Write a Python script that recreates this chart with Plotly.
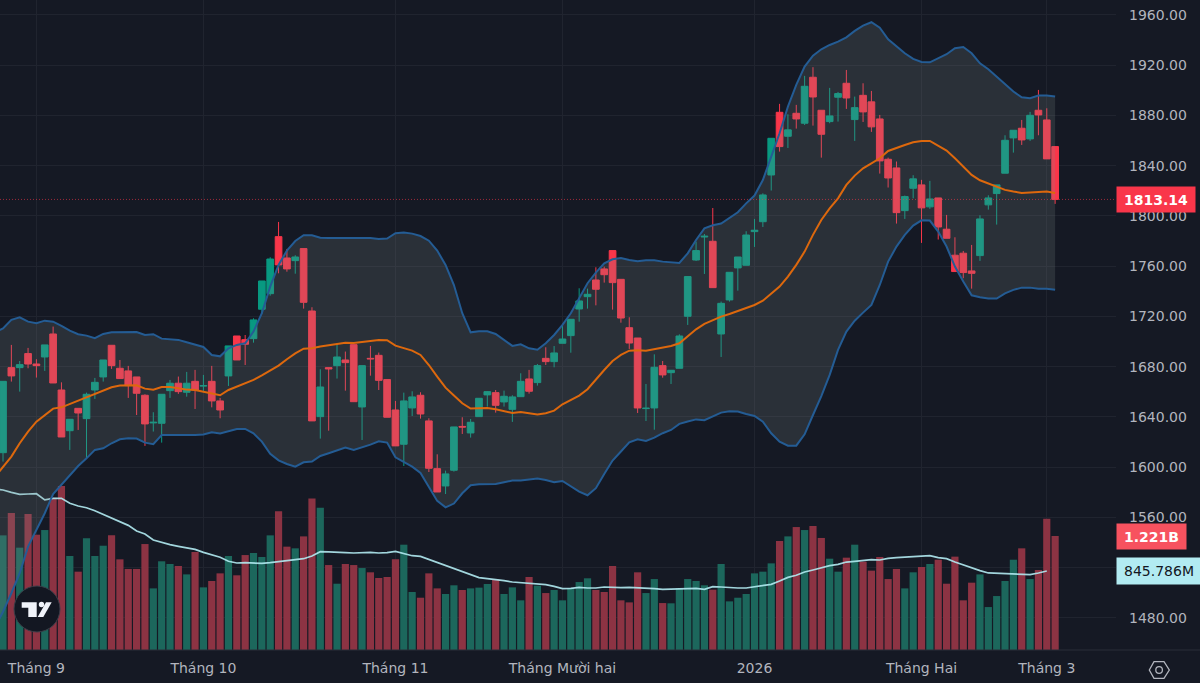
import plotly.graph_objects as go

# price data
open_ = [1611.5,1679.2,1679.2,1690.4,1682.1,1687.7,1706,1661.4,1629,1646.8,1638.6,1661.4,1671.8,1697,1678.7,1676.6,1671.8,1657.2,1635.2,1634.9,
         1660.9,1666.8,1659.6,1668.3,1664.5,1668.3,1652.7,1672.6,1704.4,1701.5,1702.3,1725.7,1738.1,1783.5,1766.5,1764.4,1774,1724.3,1640.2,1679.2,
         1680.8,1685.3,1697.5,1647.9,1686.6,1689,1669.7,1645.5,1618.2,1647.1,1657.2,1636.8,1598.8,1585,1597.5,1632.4,1627.2,1640.2,1657.5,1659.3,
         1651.9,1646,1656.1,1670.2,1667.3,1686.6,1684,1698.6,1704.7,1725.9,1735.7,1749,1757.8,1772.4,1749.5,1711,1702.8,1646.6,1647.1,1680.8,
         1675.2,1678.7,1720.1,1764.9,1783.2,1779.8,1706,1733.1,1758.6,1760.7,1787.5,1795.4,1832.6,1882.5,1863.4,1881.7,1873.8,1910.4,1884.1,1875.1,
         1894.5,1905.6,1876.7,1896,1890.8,1877.2,1845.1,1838.2,1804.2,1822,1824.7,1807.2,1814.3,1789.4,1768.7,1770.3,1756.2,1768.4,1808.8,1817.8,
         1834,1862.1,1869.8,1861.3,1884.1,1876.4,1855.2]
high = [1668.3,1697.3,1684.5,1694.9,1685.9,1697.3,1711.9,1667.5,1638.1,1646.8,1659.3,1671,1685.3,1697,1685.3,1680.6,1671.8,1658,1643.7,1658,
        1669.4,1672.1,1675.8,1677.4,1673.4,1680.6,1655.1,1696.5,1704.4,1705.2,1718.5,1748.2,1767.1,1795.2,1773.7,1768.7,1774,1727.3,1677.9,1679.3,
        1698,1692,1697.5,1680.8,1696.5,1691.2,1669.7,1652.7,1659.3,1660.4,1659.6,1638.9,1610.2,1597.2,1632,1639.7,1638.3,1654.8,1660.6,1661.4,
        1660.9,1657.2,1674.7,1677.4,1682.1,1695.4,1696.4,1713.7,1717.7,1742.4,1742.1,1759.1,1759.6,1772.4,1749.5,1719.3,1702.8,1666.2,1689.8,1684.5,
        1677.1,1705.7,1751.7,1779.5,1785.6,1806.3,1731.8,1755.1,1767.3,1787.8,1797.6,1818,1861.8,1889.2,1880.9,1888.4,1911.5,1918.4,1884.1,1901.9,
        1898.7,1916.2,1895,1905.6,1899.5,1880.4,1846.4,1843.3,1816.2,1832.4,1828.7,1827.9,1814.3,1800.8,1783,1772.1,1776.9,1800.5,1816.4,1824.7,
        1864.2,1868.2,1876.4,1882.8,1900.3,1885.7,1855.2]
low = [1604.4,1668.1,1660.1,1678.7,1671.3,1676.6,1667,1624,1613.7,1629.6,1607,1654.3,1668.1,1678.2,1670.5,1655.1,1641.5,1616.9,1628.3,1619.5,
       1655.1,1658.3,1656.1,1646.3,1659.6,1647.6,1638.9,1664.6,1685.3,1681.3,1699.1,1722,1736.5,1754.3,1755.6,1754,1726.2,1636.8,1622.7,1629,
       1670.5,1660.9,1652.1,1621.6,1672.8,1661.4,1639.7,1616.9,1600.9,1640.7,1638.6,1596.1,1580.2,1578.6,1596.4,1626.4,1623.5,1640.2,1648.2,1643.4,
       1648.2,1636,1656.1,1658.5,1664.9,1681.3,1679.5,1698.6,1691.1,1715.8,1726.2,1728.8,1746.9,1725.4,1715,1694.1,1643.1,1636.7,1629.8,1671.2,
       1666.2,1678.7,1713.2,1764.1,1753.8,1742.9,1687.7,1731.8,1740.5,1760.7,1775.3,1791.2,1820.2,1851.2,1854.1,1869.5,1872.4,1871.9,1846.4,1873.8,
       1875.1,1885.2,1859.7,1874.8,1866.9,1833.7,1822.6,1793.9,1797.6,1814,1778.5,1805.6,1781.2,1782.2,1755.7,1750.4,1742.1,1764.2,1805,1793.1,
       1834,1850.4,1856.5,1859.7,1864.2,1845.4,1809.6]
close = [1668.3,1672.6,1681.6,1682.1,1680.8,1697.3,1667,1624,1638.1,1643.1,1658,1667.5,1685.3,1680.8,1670.5,1664.9,1658.8,1634.4,1635.7,1658,
         1666.8,1660.1,1666.8,1661.4,1664.9,1652.7,1645.5,1696.5,1685.3,1697.8,1717.2,1748.2,1765.7,1761,1757.8,1767.3,1731.2,1636.8,1663.8,1678.2,
         1687.7,1683.2,1652.1,1680.8,1686.2,1669.1,1639.7,1616.9,1652.7,1655.9,1642.3,1599.1,1580.2,1594.6,1632,1631.9,1635.7,1654.8,1660.1,1649.2,
         1656.4,1655.9,1668.3,1660.4,1680.8,1684,1690.9,1702,1717.7,1732.3,1737.6,1741.6,1753.2,1746.9,1718.7,1698.8,1647.1,1646.9,1679.5,1673.4,
         1677.1,1704.4,1751.7,1772.4,1783.8,1742.9,1730.4,1755.1,1767.3,1784.8,1788.6,1816.7,1861.8,1855.2,1868.5,1877.2,1903.2,1894.7,1865,1879.6,
         1897.4,1893.9,1886.2,1882.8,1870.9,1843.8,1830.2,1802.6,1815.4,1829.5,1806.4,1813.5,1791.2,1782.2,1755.7,1754.9,1754.3,1797.6,1814.3,1824.7,
         1860.2,1868.2,1860.5,1880.1,1880.4,1845.4,1813.14]

# volume in millions
volume = [1228,1467,1096,1457,1235,1285,1631,1756,1007,839,1196,1007,1117,1228,971,868,868,1135,660,950,
          921,900,810,1050,671,739,821,1007,800,1017,1039,996,1228,1485,1107,1089,1217,1624,1524,910,
          710,921,910,878,832,771,782,971,1128,621,560,821,660,600,693,643,660,668,707,753,
          600,671,532,782,689,610,643,532,664,728,768,643,621,900,532,510,832,610,760,503,
          500,660,760,739,693,646,921,521,560,600,821,839,928,1167,1217,1317,1285,1328,1200,978,
          839,989,1128,946,850,996,760,868,660,832,889,921,967,710,1000,532,721,810,460,578,
          739,967,1089,760,857,1407,1221]

# the line series have one extra point in front, just off the left edge
line_x = list(range(-1, 127))
bb_upper = [1707,1710.5,1717.2,1719.3,1715.8,1714.5,1716.6,1715.8,1712.4,1708.7,1705.8,1704.7,1702.6,1706,1707.4,1707.6,1707.6,1707.6,1705.2,1705.8,
            1702.3,1702.1,1701.3,1699.4,1697.8,1695.7,1689.3,1688.2,1694.6,1697.3,1698.6,1707.9,1722.5,1743.7,1761,1772.4,1780,1784.6,1784.6,1782.7,
            1782.5,1782.5,1782.2,1782.7,1782.7,1782.5,1781.7,1782,1786.2,1786.7,1785.9,1784,1780.3,1772.4,1761,1745,1722.5,1707.3,1708.1,1708.1,
            1706,1701.2,1696.5,1697.8,1694.6,1693.5,1698.6,1705.2,1713.2,1722.5,1734.4,1746.4,1754.8,1762.3,1765.5,1766.5,1764.9,1763.9,1764.7,1764.7,
            1763.6,1762.8,1762.5,1770.2,1780.8,1790.1,1792.5,1793.9,1798.1,1802.9,1810,1816.2,1828.6,1847.2,1865.8,1887,1904.3,1918.9,1927.6,1932.7,
            1936.1,1938.8,1942.2,1947.3,1951.5,1954.2,1949.9,1940.6,1934.8,1929.5,1925,1922.6,1922.3,1925.5,1928.7,1933.5,1934.5,1929.5,1921.5,1916.8,
            1910.9,1904.3,1899,1894.5,1893.7,1895.8,1895.8,1895]
bb_mid = [1592,1600.4,1608.4,1619,1628.3,1636.2,1641.5,1646.6,1647.6,1650.3,1653,1655.3,1658,1660.9,1663.6,1664.9,1664.9,1665.2,1662.5,1661.7,
          1663.8,1663.8,1662.8,1661.7,1661.4,1660.1,1658.3,1657.2,1661.4,1664.1,1666.2,1669.4,1673,1676.8,1680.8,1685.9,1690.6,1694.3,1694.6,1696,
          1697,1697.8,1699.1,1698.8,1699.4,1700.5,1701.2,1701,1696.7,1694.9,1692.8,1689.3,1681.3,1672,1663.3,1657,1650.8,1646.6,1647.1,1647.1,
          1646,1644.5,1643.1,1643.9,1642.8,1642,1642.9,1645,1650,1653.5,1656.9,1662,1669.9,1677.3,1684.5,1689.3,1692.7,1693,1692.7,1693.8,
          1695.1,1696.5,1698.6,1703.9,1709.7,1714,1717.2,1719.8,1721.9,1724.3,1726.4,1729.1,1732.5,1738.4,1743.7,1751.7,1761,1771.6,1784.9,1796.8,
          1806,1814,1824.7,1832.1,1837.9,1841.9,1845.9,1851.7,1854.4,1856.5,1858.6,1859.7,1859.7,1856,1852,1845.9,1839.3,1832.6,1828.4,1826,
          1823.3,1820.7,1819.4,1818.3,1818.6,1819.1,1819.4,1818.3]
bb_lower = [1472,1484.9,1499.6,1515.5,1536.7,1550,1563.3,1578.6,1585.8,1593.8,1600.9,1607,1613.7,1615,1619,1622.2,1623,1622.7,1619.5,1618.2,
            1625.6,1625.6,1625.4,1625.4,1625.6,1625.9,1627.7,1626.7,1628.8,1630.4,1630.4,1626.9,1620.3,1610.6,1605.4,1602.5,1600.4,1603.8,1604.4,1608.9,
            1611,1613.1,1615.5,1613.7,1615.5,1617.9,1620.6,1619.5,1607.8,1604.4,1600.4,1595.4,1584.5,1573.1,1568,1571,1579.2,1585.6,1586.4,1586.4,
            1586.6,1587.9,1589.3,1589.3,1590.3,1590.9,1589.8,1587.9,1589,1585,1580.5,1577.6,1583.2,1594.6,1605.2,1612.4,1619.8,1622.2,1620.9,1623.5,
            1627,1629.6,1634.4,1636.3,1638,1637.3,1640.5,1643.4,1644.4,1644.2,1642.3,1640.7,1636.2,1626.9,1620.3,1617.1,1617.1,1626.1,1641.5,1656.6,
            1673.4,1693.3,1707.9,1716.6,1723,1729.1,1745,1763.6,1775.6,1784.9,1792.3,1796.5,1796.3,1787.5,1775.6,1759.7,1747.7,1736.8,1735.2,1734.2,
            1734.2,1738.4,1741.1,1742.9,1742.9,1742.1,1742.1,1741.3]
volume_ma = [1725,1714,1689,1667,1671,1674,1607,1624,1624,1571,1542,1524,1492,1453,1417,1382,1335,1274,1242,1178,
             1150,1128,1110,1096,1078,1046,1017,993,950,932,935,932,928,935,946,953,964,978,1007,1053,
             1050,1042,1042,1039,1042,1046,1039,1042,1057,1035,1010,1003,971,935,910,878,843,807,775,764,
             757,743,728,721,714,707,700,682,657,660,671,664,664,675,668,668,671,668,664,657,
             650,653,657,657,660,650,678,675,668,664,664,675,689,703,739,778,800,835,857,882,
             903,917,942,950,957,967,964,982,989,996,1003,1007,1010,989,978,942,910,885,850,825,
             821,821,818,810,807,825,846]

month_pos = [4, 24, 47, 67, 90, 110, 125]
month_labels = ["Tháng 9", "Tháng 10", "Tháng 11", "Tháng Mười hai", "2026", "Tháng Hai", "Tháng 3"]
price_ticks = [1480, 1520, 1560, 1600, 1640, 1680, 1720, 1760, 1800, 1840, 1880, 1920, 1960]
price_labels = ["1480.00", "", "1560.00", "1600.00", "1640.00", "1680.00", "1720.00", "1760.00", "1800.00", "1840.00", "1880.00", "1920.00", "1960.00"]

BG = "#151924"
GRID = "#20242f"
UP = "#089981"
DOWN = "#f9364a"
TEXT = "#b2b5be"
FONT = "DejaVu Sans"
PLOT_W = 1116
PLOT_H = 650

candle_x = list(range(len(close)))
bar_colors = ["#1c675c" if c >= o else "#8c3343" for o, c in zip(open_, close)]


def px(x):
    return x / PLOT_W


def py(y):
    return 1 - y / PLOT_H


def path(points, close_it=True):
    d = "M " + " L ".join(f"{px(x):.5f},{py(y):.5f}" for x, y in points)
    return d + (" Z" if close_it else "")


fig = go.Figure()

# volume sits on the main axis so the price traces are drawn over it
fig.add_trace(go.Bar(x=candle_x, y=volume, marker=dict(color=bar_colors, line_width=0), width=0.86, yaxis="y", hoverinfo="skip"))
fig.add_trace(go.Scatter(x=line_x, y=volume_ma, mode="lines", line=dict(color="#b2ebf2", width=1.7), opacity=0.9, yaxis="y", hoverinfo="skip"))

fig.add_trace(go.Scatter(x=line_x, y=bb_upper, mode="lines", line=dict(color="#245c94", width=2), yaxis="y2", hoverinfo="skip"))
fig.add_trace(go.Scatter(x=line_x, y=bb_lower, mode="lines", line=dict(color="#245c94", width=2), fill="tonexty",
                         fillcolor="rgba(130,140,142,0.2)", yaxis="y2", hoverinfo="skip"))
fig.add_trace(go.Scatter(x=line_x, y=bb_mid, mode="lines", line=dict(color="#dd680d", width=2), yaxis="y2", hoverinfo="skip"))

fig.add_trace(go.Candlestick(
    x=candle_x, open=open_, high=high, low=low, close=close, yaxis="y2",
    increasing=dict(line=dict(color=UP, width=1), fillcolor=UP),
    decreasing=dict(line=dict(color=DOWN, width=1), fillcolor=DOWN),
    whiskerwidth=0,
))

shapes = [
    # last price line
    dict(type="line", xref="paper", yref="y2", x0=0, x1=1, y0=close[-1], y1=close[-1],
         line=dict(color="rgba(249,54,74,0.6)", width=1, dash="1px,2px"), layer="above"),
    # bottom separator
    dict(type="line", xref="paper", yref="paper", x0=0, x1=1200 / PLOT_W, y0=0, y1=0, line=dict(color="#2a2e39", width=1)),
    # logo badge
    dict(type="circle", xref="paper", yref="paper", x0=px(14), x1=px(60), y0=py(632), y1=py(586),
         fillcolor="#131722", line=dict(color="#3a3e49", width=1), layer="above"),
    dict(type="path", xref="paper", yref="paper", fillcolor="#f0f3fa", line_width=0, layer="above",
         path=path([(21.7, 602.3), (36.7, 602.3), (36.7, 617), (28.3, 617), (28.3, 607.7), (21.7, 607.7)])),
    dict(type="circle", xref="paper", yref="paper", x0=px(38.8), x1=px(44.2), y0=py(607.2), y1=py(601.8),
         fillcolor="#f0f3fa", line_width=0, layer="above"),
    dict(type="path", xref="paper", yref="paper", fillcolor="#f0f3fa", line_width=0, layer="above",
         path=path([(46, 602.3), (51.7, 602.3), (43.3, 617), (37.7, 617)])),
    # settings icon
    dict(type="path", xref="paper", yref="paper", line=dict(color=TEXT, width=1.3),
         path=path([(1149.3, 670), (1154, 661.7), (1164, 661.7), (1169.3, 670), (1164, 678.3), (1154, 678.3)])),
    dict(type="circle", xref="paper", yref="paper", x0=px(1155.8), x1=px(1162.4), y0=py(673.3), y1=py(666.7),
         line=dict(color=TEXT, width=1.3)),
]

annotations = [
    dict(xref="paper", yref="y2", x=1, y=close[-1], xanchor="left", yanchor="middle", text=f"<b>{close[-1]:.2f}</b>",
         showarrow=False, bgcolor=DOWN, width=78, height=25, borderpad=0, font=dict(color="#ffffff", size=14, family=FONT)),
    dict(xref="paper", yref="y", x=1, y=volume[-1], xanchor="left", yanchor="middle", text="<b>1.221B</b>",
         showarrow=False, bgcolor="#f7525f", width=69, height=25, borderpad=0, font=dict(color="#ffffff", size=14, family=FONT)),
    dict(xref="paper", yref="y", x=1, y=volume_ma[-1], xanchor="left", yanchor="middle", text="845.786M",
         showarrow=False, bgcolor="#b2ebf2", width=84, height=26, borderpad=0, font=dict(color="#131722", size=14, family=FONT)),
]

fig.update_layout(
    width=1200, height=683,
    autosize=False,
    margin=dict(l=0, r=1200 - PLOT_W, t=0, b=683 - PLOT_H),
    paper_bgcolor=BG, plot_bgcolor=BG,
    showlegend=False,
    boxgap=0.2, boxgroupgap=0,
    font=dict(family=FONT, size=14, color=TEXT),
    shapes=shapes,
    annotations=annotations,
    xaxis=dict(
        range=[-0.36, 133.29], rangeslider=dict(visible=False),
        tickmode="array", tickvals=month_pos, ticktext=month_labels,
        showgrid=True, gridcolor=GRID, gridwidth=1, zeroline=False, showline=False,
        ticks="", ticklabelstandoff=8,
    ),
    yaxis=dict(range=[0, 6962], visible=False, showgrid=False, zeroline=False),
    yaxis2=dict(
        range=[1454.4, 1971.9], overlaying="y", side="right",
        tickmode="array", tickvals=price_ticks, ticktext=price_labels,
        showgrid=True, gridcolor=GRID, gridwidth=1, zeroline=False, showline=False,
        ticks="", ticklabelstandoff=12,
    ),
)

fig.write_html("out.html", config=dict(displayModeBar=False),
               post_script="document.body.style.margin='0';document.body.style.overflow='hidden';")
